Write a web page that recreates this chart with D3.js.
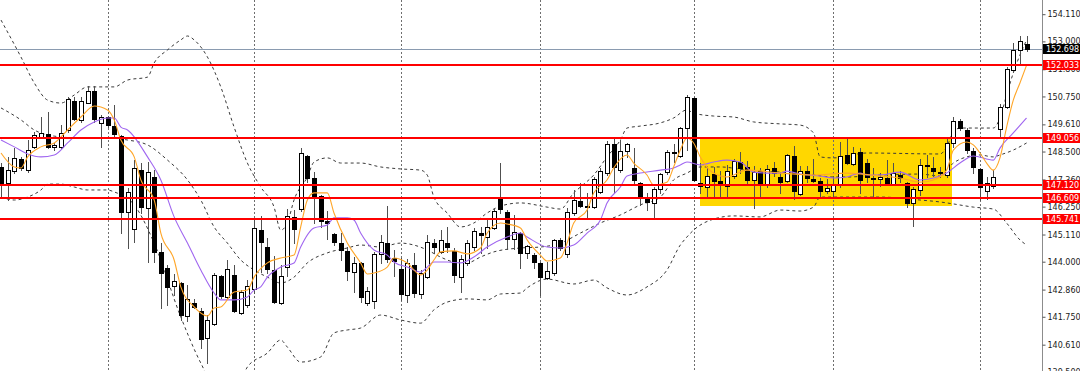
<!DOCTYPE html>
<html>
<head>
<meta charset="utf-8">
<script src="https://cdnjs.cloudflare.com/ajax/libs/d3/7.8.5/d3.min.js"></script>
<style>
  body { margin: 0; background: #fff; }
  svg { display: block; }
  text { font-family: "DejaVu Sans", sans-serif; }
</style>
</head>
<body>
<div id="chart"></div>
<script>
// daily candles, oldest first
var opens = [147.87,147.21,147.70,148.20,147.74,148.69,149.09,149.22,148.69,148.69,
  149.38,150.56,149.79,150.48,150.97,149.67,149.91,149.54,149.13,146.03,
  145.34,147.74,146.19,147.46,144.40,143.74,143.01,143.13,141.78,142.31,
  141.99,140.88,141.45,143.42,142.56,143.46,141.90,142.23,142.88,145.29,
  144.60,143.66,142.31,143.78,145.83,146.15,148.32,147.42,146.68,145.66,
  145.13,144.76,144.44,143.58,143.95,142.31,142.39,144.31,144.76,144.15,
  143.70,142.64,143.86,142.68,143.37,144.76,144.40,144.76,144.44,143.37,
  143.95,144.60,145.17,145.01,145.38,146.56,146.03,144.93,145.17,144.36,
  144.27,143.95,143.33,143.54,144.89,144.31,145.99,146.48,146.27,146.23,
  146.85,147.62,148.81,147.74,148.52,147.83,147.21,146.56,146.40,146.97,
  147.66,148.48,148.32,149.46,150.69,147.21,147.05,147.58,147.29,147.09,
  147.50,148.07,147.87,147.34,147.70,147.13,147.83,147.46,147.29,148.32,
  146.76,147.70,147.38,147.29,146.89,146.89,147.13,148.36,147.99,148.48,
  148.03,147.42,147.38,147.42,147.17,147.54,147.21,146.40,146.93,147.95,
  147.83,147.66,147.54,148.85,149.75,149.38,148.52,147.79,146.89,147.09,
  149.42,150.32,151.83,152.65,152.89];
var highs = [148.03,148.28,148.64,148.28,148.97,149.30,149.91,150.11,148.85,149.58,
  150.73,150.73,150.73,151.18,151.18,149.99,149.95,150.40,149.18,147.01,
  148.15,148.03,148.07,147.74,144.76,143.86,143.50,143.17,143.05,142.48,
  142.11,141.82,143.54,143.46,144.07,143.86,142.84,143.25,145.70,145.87,
  144.97,144.23,143.86,146.15,146.11,148.64,148.36,147.66,146.72,146.07,
  145.17,145.17,144.60,144.19,143.99,142.97,144.40,145.09,146.27,144.48,
  144.15,144.11,144.36,143.66,145.09,144.93,145.29,145.42,144.56,144.27,
  144.89,145.38,145.42,145.70,146.19,148.03,146.11,145.91,145.21,144.68,
  144.36,143.99,143.99,144.93,144.97,146.19,146.93,147.21,146.81,147.46,
  147.83,148.93,149.09,148.97,148.85,148.64,147.25,146.81,147.05,147.62,
  148.56,148.81,149.50,150.81,150.73,148.03,147.83,147.87,147.70,147.95,
  148.20,148.48,148.11,147.91,147.83,147.95,148.07,147.66,148.40,148.73,
  147.91,147.91,148.20,147.42,147.38,147.50,148.89,149.09,148.69,148.64,
  148.20,147.83,147.62,148.15,148.03,147.70,147.25,147.05,148.20,148.36,
  148.28,147.87,149.01,149.91,149.83,149.46,148.64,147.83,147.46,147.74,
  150.44,151.95,152.93,153.22,153.22];
var lows = [146.64,146.52,147.62,147.74,147.66,148.64,149.05,148.64,148.56,148.64,
  149.30,149.79,149.71,150.48,149.71,148.69,149.50,149.09,145.17,144.56,
  144.80,145.99,143.99,143.99,142.11,142.23,142.64,141.62,141.58,142.11,
  140.47,139.86,141.41,142.52,142.52,141.94,141.86,142.15,142.72,143.58,
  143.54,142.31,142.27,143.42,144.76,146.07,147.25,145.58,145.42,144.93,
  144.68,144.07,143.25,142.76,142.35,142.23,142.11,143.95,143.99,143.42,
  142.43,142.35,142.56,142.52,143.33,144.36,144.36,144.40,143.17,142.76,
  143.86,144.48,144.36,144.56,145.34,145.99,144.52,144.52,143.74,144.15,
  143.74,142.64,143.29,143.46,144.48,144.19,145.91,146.23,145.79,146.19,
  146.81,147.54,146.85,147.66,148.28,147.13,146.32,146.11,145.83,146.81,
  147.58,148.07,148.28,148.56,147.29,146.81,146.64,146.64,146.64,146.64,
  147.42,147.62,147.13,146.19,146.64,147.05,147.50,146.81,147.25,146.56,
  146.72,147.25,147.25,146.64,146.81,146.64,147.05,147.99,147.95,146.81,
  147.25,146.64,147.09,147.13,147.13,147.25,146.23,145.46,146.72,147.46,
  147.50,147.46,147.46,148.69,149.38,148.44,147.62,146.52,146.56,147.01,
  149.09,150.28,151.75,152.03,152.61];
var closes = [147.21,147.74,148.24,147.83,148.56,149.18,149.26,148.69,148.77,149.26,
  150.65,149.83,150.56,150.97,149.83,149.91,149.58,149.22,146.03,146.85,
  147.83,146.23,147.66,144.40,143.54,142.97,143.21,141.82,142.48,142.15,
  140.84,141.62,143.46,142.60,143.70,141.99,142.76,143.01,145.38,144.80,
  143.70,142.35,143.42,145.87,145.34,148.44,147.42,146.64,145.66,145.58,
  144.80,144.48,143.62,143.95,142.56,142.80,144.31,144.80,144.11,144.03,
  142.68,143.95,142.72,143.54,144.80,144.60,144.89,144.60,143.46,144.11,
  144.76,145.25,145.09,145.42,146.07,146.15,144.93,145.21,144.36,144.64,
  143.99,143.37,143.62,144.89,144.56,146.03,146.52,146.27,146.23,147.38,
  147.70,148.81,147.87,148.52,148.81,147.34,146.64,146.44,146.97,147.58,
  148.48,148.44,149.46,150.73,147.34,147.09,147.50,147.29,147.17,147.70,
  148.11,147.83,147.34,147.66,147.13,147.79,147.62,147.25,148.36,146.89,
  147.70,147.42,147.29,146.89,147.01,147.13,148.32,148.03,148.44,147.34,
  147.46,147.38,147.46,147.17,147.62,147.42,146.40,146.97,147.95,147.91,
  147.70,147.62,148.85,149.75,149.46,148.56,147.87,147.05,147.21,147.46,
  150.32,151.87,152.65,153.01,152.70];

// indicator readings (candle index, price)
var bbUpIdx = [0,3,5,7,9,11,13,15,17,19,22,23,25,27,28,29,31,33,35,37,39,41,42,43,44,46,47,49,51,54,57,60,63,64,65,67,69,71,73,75,78,82,84,86,87,89,91,93,94,96,99,101,103,104,107,110,113,117,120,122,123,125,130,141,142,143,144,149,150,151,152,153,154];
var bbUpVal = [153.87,152.36,151.30,150.60,150.48,150.81,151.14,151.14,151.14,151.42,151.54,152.12,152.65,153.06,153.22,153.06,152.36,151.14,149.50,148.03,147.05,146.23,145.29,145.58,146.52,147.46,148.07,148.24,148.03,148.03,147.87,147.79,147.74,147.54,146.64,145.99,145.42,145.58,145.99,146.27,146.40,146.23,146.15,146.81,147.05,147.54,148.28,148.97,149.46,149.54,149.67,149.87,150.20,150.07,149.95,149.91,149.71,149.63,149.58,149.26,148.28,148.24,148.44,148.40,148.69,149.30,149.46,149.46,149.87,150.81,151.71,152.44,153.06];
var bbMidIdx = [0,3,5,8,12,16,19,22,25,28,30,32,34,36,38,40,42,44,46,49,52,54,57,60,62,64,66,68,70,72,74,78,81,84,87,90,93,96,99,101,103,105,108,112,117,122,125,127,132,138,141,143,145,147,149,150,152,154];
var bbMidVal = [150.28,149.79,149.38,149.13,149.05,149.05,148.97,148.77,148.15,147.34,146.52,145.42,144.76,144.07,143.66,143.37,143.13,143.37,143.95,144.36,144.56,144.68,144.60,144.76,144.68,144.48,144.19,143.99,143.95,144.19,144.40,144.56,144.60,144.76,145.17,145.58,145.91,146.32,146.64,147.34,147.62,147.87,147.87,147.74,147.66,147.54,147.46,147.46,147.54,147.58,147.50,148.03,148.28,148.36,148.28,148.36,148.56,148.85];
var bbLowIdx = [0,2,4,6,7,9,11,13,16,17,20,23,27,30,33,35,37,40,42,43,45,48,50,52,54,57,60,63,65,67,70,73,75,78,79,82,86,89,91,94,97,100,102,103,104,107,110,114,117,120,122,123,126,132,138,141,143,146,149,151,153,154];
var bbLowVal = [146.64,146.52,146.64,146.93,147.17,147.17,147.05,146.93,146.93,146.85,146.32,144.76,141.74,139.86,138.55,138.55,139.70,140.27,140.80,140.51,139.90,140.11,141.09,141.21,141.29,141.82,141.62,141.49,142.03,142.35,142.48,142.44,142.68,142.72,142.93,143.29,143.09,143.25,142.93,142.64,142.97,143.66,144.68,145.01,145.29,145.74,145.87,145.83,146.11,146.07,146.23,146.64,146.64,146.64,146.52,146.44,146.36,146.23,146.15,145.58,144.89,144.68];
var maFastIdx = [0,2,3,4,6,8,10,12,14,16,17,18,20,21,23,24,26,27,29,31,32,33,35,37,38,40,42,44,45,46,47,49,50,52,54,55,56,58,59,61,63,64,65,66,68,70,72,73,75,76,78,79,81,82,84,85,86,88,89,91,92,94,95,97,98,100,101,102,103,104,105,107,109,112,117,122,127,132,135,138,140,142,143,145,146,147,148,149,150,151,152,153,154];
var maFastVal = [148.44,147.87,147.83,148.28,148.69,148.85,149.38,149.91,150.36,150.20,149.79,148.97,148.28,147.34,146.52,145.17,144.07,142.97,142.15,141.78,142.11,142.15,142.76,142.84,143.37,143.95,144.15,144.27,145.42,146.52,146.81,146.81,145.99,144.76,143.95,143.50,143.54,143.78,144.15,143.95,143.46,143.66,144.07,144.40,144.44,144.32,144.56,145.17,145.58,145.54,145.38,144.89,144.27,144.03,144.15,144.76,145.58,146.11,146.81,147.34,147.83,148.36,148.03,147.54,147.13,147.25,147.87,148.56,149.05,148.85,148.28,147.62,147.46,147.74,147.62,147.54,147.62,147.50,147.42,147.25,147.34,147.74,148.56,148.89,148.77,148.44,148.03,147.74,148.24,149.50,150.60,151.30,152.03];
var maSlowIdx = [0,2,4,6,8,10,12,14,16,17,18,19,22,24,26,28,30,32,33,35,37,38,39,40,42,44,45,47,49,50,52,53,54,56,58,59,61,63,64,65,67,69,71,73,76,78,79,82,84,86,88,90,91,93,94,96,99,101,102,103,105,107,109,111,113,115,117,118,120,123,125,127,129,130,132,135,138,140,142,144,146,149,150,152,154];
var maSlowVal = [148.97,148.69,148.40,148.28,148.36,148.85,149.38,149.71,149.87,149.87,149.50,149.38,148.28,147.34,145.83,144.76,143.66,142.72,142.44,142.44,142.56,142.84,142.97,143.37,143.78,143.95,144.60,145.38,145.50,145.79,145.79,145.70,145.17,144.48,144.27,143.99,143.78,143.58,143.78,143.99,143.99,143.95,144.19,144.60,145.01,145.17,145.01,144.60,144.56,144.68,145.17,145.70,146.40,147.05,147.50,147.62,147.74,147.83,147.95,148.07,147.95,148.07,148.15,148.07,147.66,147.62,147.62,147.70,147.58,147.50,147.42,147.46,147.62,147.54,147.54,147.66,147.34,147.42,147.62,148.03,148.32,148.15,148.64,149.26,149.87];

// chart objects
var levels = [152.033, 149.056, 147.120, 146.609, 145.741];
var bidPrice = 152.698;
var boxIdx = [105, 142.8];
var boxPrice = [146.27, 149.06];
var gridIdx = [16, 38, 60, 81, 104, 125, 147];
var tickVals = [154.110, 153.000, 151.860, 150.750, 149.610, 148.500, 147.360, 146.250, 145.110, 144.000, 142.860, 141.750, 140.610, 139.500];

var W = 1080, H = 371, plotW = 1042;

var x = d3.scaleLinear().domain([0, 154]).range([1, 1026.6]);
var y = d3.scaleLinear().domain([139.535, 154.69]).range([H, 0]);

function px(v) { return Math.round(v) + 0.5; }

var svg = d3.select("#chart").append("svg")
  .attr("width", W)
  .attr("height", H);

svg.append("defs").append("clipPath").attr("id", "plot")
  .append("rect").attr("width", plotW).attr("height", H);

var g = svg.append("g").attr("clip-path", "url(#plot)");

// rectangle zone
g.append("rect")
  .attr("x", Math.round(x(boxIdx[0])))
  .attr("y", Math.round(y(boxPrice[1])))
  .attr("width", Math.round(x(boxIdx[1]) - x(boxIdx[0])))
  .attr("height", Math.round(y(boxPrice[0]) - y(boxPrice[1])))
  .attr("fill", "#ffd700");

// period separators
g.selectAll(".sep").data(gridIdx).enter().append("line")
  .attr("class", "sep")
  .attr("x1", d => px(x(d))).attr("x2", d => px(x(d)))
  .attr("y1", 0).attr("y2", H)
  .attr("stroke", "#6e6e6e")
  .attr("stroke-dasharray", "2,2");

// bid line
g.append("line")
  .attr("x1", 0).attr("x2", plotW)
  .attr("y1", px(y(bidPrice))).attr("y2", px(y(bidPrice)))
  .attr("stroke", "#8a9bb0");

function series(idx, val) {
  return idx.map(function(d, i) { return [d, val[i]]; });
}

var line = d3.line()
  .x(d => x(d[0]))
  .y(d => y(d[1]))
  .curve(d3.curveMonotoneX);

// bollinger bands
[[bbUpIdx, bbUpVal], [bbMidIdx, bbMidVal], [bbLowIdx, bbLowVal]].forEach(function(b) {
  g.append("path")
    .datum(series(b[0], b[1]))
    .attr("d", line)
    .attr("fill", "none")
    .attr("stroke", "#3a3a3a")
    .attr("stroke-width", 1)
    .attr("stroke-dasharray", "3,3");
});

// candles
var idx = d3.range(opens.length);

g.selectAll(".wick").data(idx).enter().append("line")
  .attr("class", "wick")
  .attr("x1", i => px(x(i))).attr("x2", i => px(x(i)))
  .attr("y1", i => Math.round(y(highs[i])))
  .attr("y2", i => Math.round(y(lows[i])) + 1)
  .attr("stroke", "#505050");

g.selectAll(".body").data(idx).enter().append("rect")
  .attr("class", "body")
  .attr("x", i => Math.round(x(i)) - 2 + 0.5)
  .attr("width", 4)
  .attr("y", i => Math.round(y(Math.max(opens[i], closes[i]))) + 0.5)
  .attr("height", i => Math.max(1, Math.round(y(Math.min(opens[i], closes[i]))) - Math.round(y(Math.max(opens[i], closes[i])))))
  .attr("fill", i => closes[i] >= opens[i] ? "#ffffff" : "#000000")
  .attr("stroke", "#000000")
  .attr("stroke-width", 1);

// moving averages
g.append("path")
  .datum(series(maSlowIdx, maSlowVal))
  .attr("d", line)
  .attr("fill", "none")
  .attr("stroke", "#a066f0")
  .attr("stroke-width", 1.1);

g.append("path")
  .datum(series(maFastIdx, maFastVal))
  .attr("d", line)
  .attr("fill", "none")
  .attr("stroke", "#ffa628")
  .attr("stroke-width", 1.1);

// horizontal levels
g.selectAll(".lvl").data(levels).enter().append("line")
  .attr("class", "lvl")
  .attr("x1", 0).attr("x2", plotW)
  .attr("y1", d => Math.round(y(d))).attr("y2", d => Math.round(y(d)))
  .attr("stroke", "#ff0000")
  .attr("stroke-width", 2);

// price axis
svg.append("line")
  .attr("x1", plotW + 0.5).attr("x2", plotW + 0.5)
  .attr("y1", 0).attr("y2", H)
  .attr("stroke", "#8c8c8c");

var axis = svg.append("g")
  .attr("transform", "translate(" + (plotW + 0.5) + ",0)")
  .call(d3.axisRight(y).tickValues(tickVals).tickFormat(d3.format(".3f")).tickSize(3).tickPadding(2));
axis.select(".domain").remove();
axis.selectAll("line").attr("stroke", "#555");
axis.selectAll("text")
  .attr("fill", "#1a1a1a")
  .style("font-size", "8px")
  .style("font-family", "'DejaVu Sans', sans-serif");

// price tags
var tags = [{p: bidPrice, c: "#000000"}].concat(levels.map(function(d) { return {p: d, c: "#ff0000"}; }));

var tag = svg.selectAll(".tag").data(tags).enter().append("g")
  .attr("class", "tag")
  .attr("transform", d => "translate(" + (plotW + 1) + "," + Math.round(y(d.p)) + ")");

tag.append("rect")
  .attr("x", 0).attr("y", -5)
  .attr("width", 37).attr("height", 10)
  .attr("fill", d => d.c);

tag.append("text")
  .attr("x", 3).attr("y", 0)
  .attr("dy", "0.34em")
  .attr("fill", "#ffffff")
  .style("font-size", "8px")
  .text(d => d3.format(".3f")(d.p));
</script>
</body>
</html>
